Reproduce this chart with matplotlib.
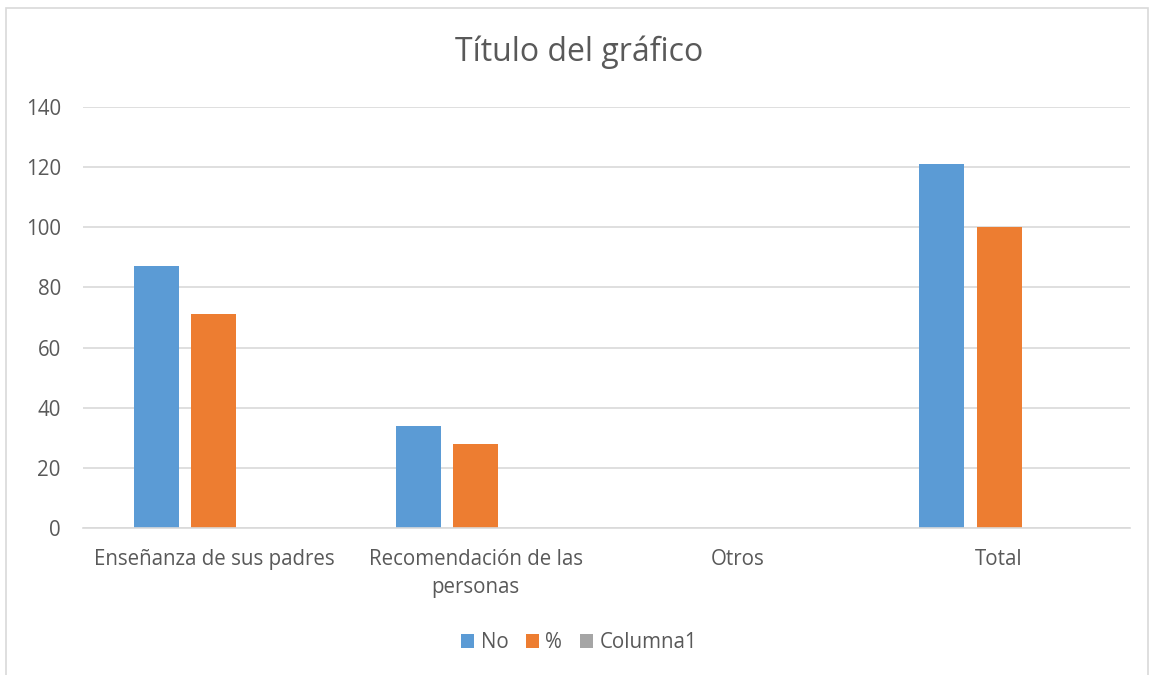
import numpy as np
import matplotlib.pyplot as plt
from matplotlib.patches import Rectangle

categories = ["Enseñanza de sus padres", "Recomendación de las\npersonas", "Otros", "Total"]
no_values = [87, 34, 0, 121]
pct_values = [71, 28, 0, 100]
col1_values = [0, 0, 0, 0]

plt.rcParams['font.family'] = ['Open Sans', 'DejaVu Sans']
text_color = '#595959'

fig = plt.figure(figsize=(11.58, 6.75), dpi=100)
ax = fig.add_axes([0.0717, 0.2178, 0.9041, 0.6237])

# chart border like the office frame
fig.patches.append(Rectangle((6 / 1158, -0.01), 1142 / 1158, 1 - 8 / 675 + 0.01,
                             transform=fig.transFigure, fill=False,
                             edgecolor='#d9d9d9', linewidth=1.2))

x = np.arange(len(categories))
w = 0.172
step = 0.22
ax.bar(x - step, no_values, w, color='#5B9BD5', label='No')
ax.bar(x, pct_values, w, color='#ED7D31', label='%')
ax.bar(x + step, col1_values, w, color='#A5A5A5', label='Columna1')

ax.set_xlim(-0.5, len(categories) - 0.5)
ax.set_ylim(0, 140)
ax.set_yticks(np.arange(0, 141, 20))
ax.yaxis.grid(True, color='#d9d9d9', linewidth=1.2)
ax.set_axisbelow(True)
for s in ['top', 'right', 'left']:
    ax.spines[s].set_visible(False)
ax.spines['bottom'].set_color('#d9d9d9')
ax.spines['bottom'].set_linewidth(1.2)
ax.tick_params(axis='both', length=0, colors=text_color, labelsize=14.8)
ax.tick_params(axis='y', pad=16)
ax.tick_params(axis='x', pad=15)
ax.set_xticks(x)
ax.set_xticklabels(categories, linespacing=1.45)

fig.text(0.5, 1 - 52 / 675, 'Título del gráfico', ha='center', va='center',
         fontsize=23, color=text_color)

fig.legend(loc='center', bbox_to_anchor=(0.5, 1 - 643 / 675), ncol=3, frameon=False,
           fontsize=14.8, labelcolor=text_color, handlelength=0.65, handleheight=0.65,
           handletextpad=0.3, columnspacing=0.85)

fig.savefig('out.png', dpi=100)
